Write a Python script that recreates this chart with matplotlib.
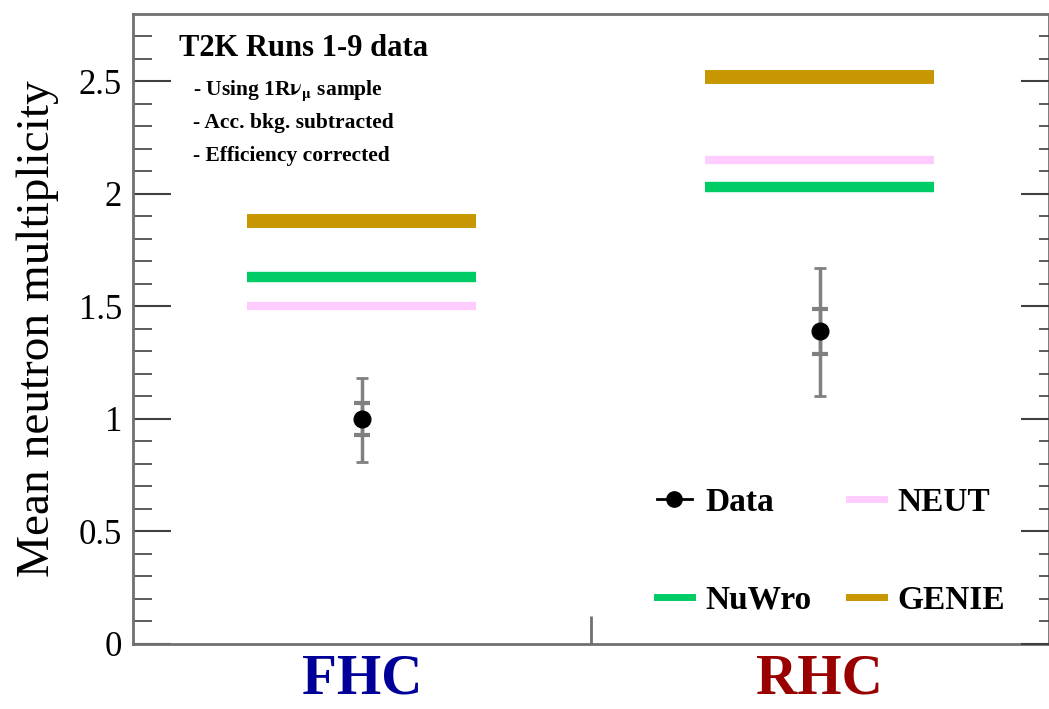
import matplotlib.pyplot as plt
from matplotlib.lines import Line2D

# beam modes and model predictions
modes = ['FHC', 'RHC']
mode_colors = ['#000099', '#990000']
neut = [1.50, 2.15]
nuwro = [1.63, 2.03]
genie = [1.88, 2.52]

# measured mean neutron multiplicity
data = [1.00, 1.39]
err_stat = [0.07, 0.10]
err_tot_up = [0.18, 0.28]
err_tot_down = [0.19, 0.29]

notes = ['- Using 1R$\\mathbf{\\nu_\\mu}$ sample', '- Acc. bkg. subtracted', '- Efficiency corrected']

plt.rcParams['font.family'] = ['Liberation Serif', 'DejaVu Serif']
plt.rcParams['mathtext.fontset'] = 'stix'

fig = plt.figure(figsize=(10.49, 7.09), dpi=100)
ax = fig.add_axes([0.1268, 0.0917, 0.873, 0.8886])

centers = [0.5, 1.5]
half = 0.25
for i, c in enumerate(centers):
    ax.hlines(genie[i], c - half, c + half, color='#c89600', lw=10)
    ax.hlines(nuwro[i], c - half, c + half, color='#00cc66', lw=7.5)
    ax.hlines(neut[i], c - half, c + half, color='#ffccff', lw=6)

ax.errorbar(centers, data, yerr=[err_tot_down, err_tot_up], fmt='none',
            ecolor='#808080', elinewidth=2.5, capsize=4, capthick=2, zorder=3)
ax.errorbar(centers, data, yerr=err_stat, fmt='none',
            ecolor='#808080', elinewidth=2.5, capsize=6, capthick=3, zorder=3)
ax.plot(centers, data, 'o', color='black', ms=12, zorder=4)

ax.set_xlim(0, 2)
ax.set_ylim(0, 2.8)
ax.set_yticks([0, 0.5, 1, 1.5, 2, 2.5])
ax.set_yticklabels(['0', '0.5', '1', '1.5', '2', '2.5'])
ax.set_yticks([i * 0.1 for i in range(28)], minor=True)
ax.set_xticks([1])
ax.set_xticklabels([])
ax.tick_params(axis='y', which='major', direction='in', length=27, width=1.5,
               color='#404040', labelsize=25, pad=8)
ax.tick_params(axis='y', which='minor', direction='in', length=14, width=1.2, color='#404040')
ax.tick_params(axis='x', direction='in', length=20, width=2, color='#707070')
for s in ax.spines.values():
    s.set_color('#707070')
    s.set_linewidth(2)

ax2 = ax.twinx()
ax2.set_ylim(0, 2.8)
ax2.set_yticks([0, 0.5, 1, 1.5, 2, 2.5])
ax2.set_yticks([i * 0.1 for i in range(28)], minor=True)
ax2.set_yticklabels([])
ax2.tick_params(axis='y', which='major', direction='in', length=20, width=1.5, color='#404040')
ax2.tick_params(axis='y', which='minor', direction='in', length=7, width=1.2, color='#404040')
for s in ax2.spines.values():
    s.set_visible(False)

ax.set_ylabel('Mean neutron multiplicity', fontsize=34, labelpad=14)

for i, c in enumerate(centers):
    ax.text(c, -0.078, modes[i], transform=ax.get_xaxis_transform(), ha='center', va='baseline',
            fontsize=41, fontweight='bold', color=mode_colors[i])

ax.text(0.05, 0.945, 'T2K Runs 1-9 data', transform=ax.transAxes, fontsize=22,
        fontweight='bold', va='center')
for k, t in enumerate(notes):
    ax.text(0.065, 0.879 - k * 0.052, t, transform=ax.transAxes, fontsize=15.5,
            fontweight='bold', va='center')

handles = [
    Line2D([], [], color='black', marker='o', ms=11, lw=2),
    Line2D([], [], color='#00cc66', lw=5),
    Line2D([], [], color='#ffccff', lw=5),
    Line2D([], [], color='#c89600', lw=5),
]
labels = ['Data', 'NuWro', 'NEUT', 'GENIE']
ax.legend(handles, labels, ncol=2, loc='upper left', bbox_to_anchor=(0.572, 0.249),
          frameon=False, prop={'weight': 'bold', 'size': 24}, handlelength=1.05,
          labelspacing=2.0, columnspacing=1.14, handletextpad=0.4, borderpad=0,
          borderaxespad=0)

fig.savefig('out.png', dpi=100)
